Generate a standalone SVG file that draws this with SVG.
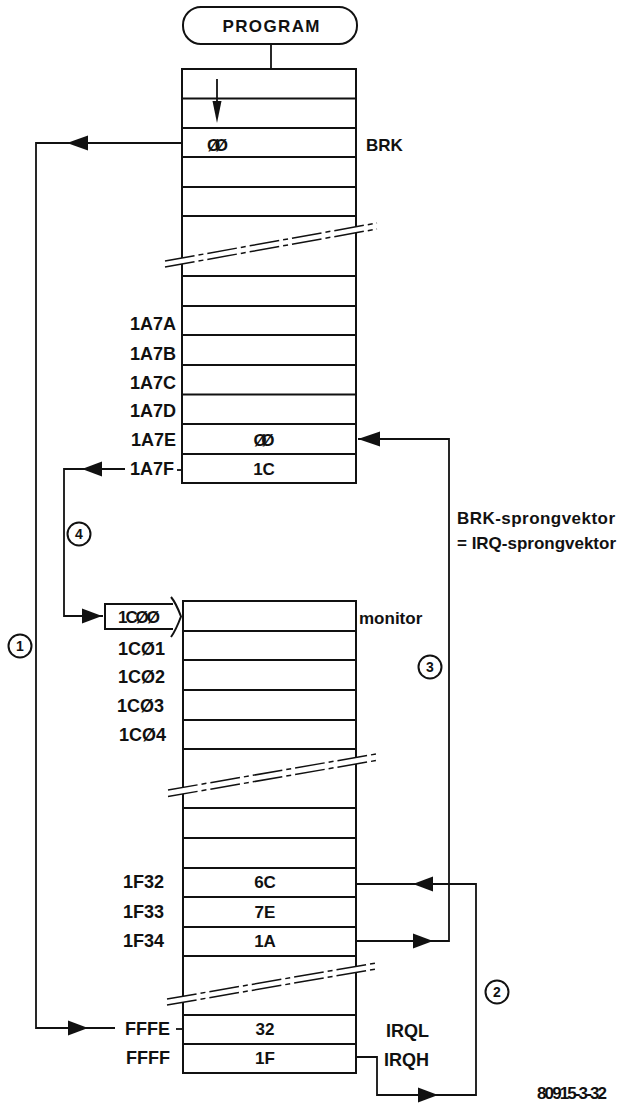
<svg xmlns="http://www.w3.org/2000/svg" width="619" height="1104" viewBox="0 0 619 1104">
<style>
  .bg{fill:#fff}
  .box{fill:none;stroke:#111;stroke-width:2}
  .row{stroke:#111;stroke-width:2}
  .wire{fill:none;stroke:#111;stroke-width:1.8}
  .ah{fill:#111;stroke:none}
  .band{fill:#fff;stroke:none}
  .brk{fill:none;stroke:#111;stroke-width:1.5;stroke-dasharray:30 4 5 4}
  .t{font-family:"Liberation Sans",Arial,sans-serif;font-weight:bold;font-size:17px;fill:#111}
  .lab{font-size:18px}
  .num{font-size:14px;text-anchor:middle}
  .circ{fill:#fff;stroke:#111;stroke-width:2}
  .mid{text-anchor:middle}
  .end{text-anchor:end}
</style>
<rect class="bg" x="0" y="0" width="619" height="1104"/>

<g id="program">
  <rect class="box" x="183" y="7" width="174" height="37" rx="18" ry="18"/>
  <text class="t mid" x="271" y="32" font-size="18" textLength="97">PROGRAM</text>
</g>

<g id="memory-top">
  <rect class="box" x="182" y="69" width="174" height="414"/>
  <g class="row">
    <line x1="182" y1="98.5" x2="356" y2="98.5"/>
    <line x1="182" y1="128" x2="356" y2="128"/>
    <line x1="182" y1="157" x2="356" y2="157"/>
    <line x1="182" y1="187" x2="356" y2="187"/>
    <line x1="182" y1="216" x2="356" y2="216"/>
    <line x1="182" y1="276" x2="356" y2="276"/>
    <line x1="182" y1="306" x2="356" y2="306"/>
    <line x1="182" y1="335" x2="356" y2="335"/>
    <line x1="182" y1="365" x2="356" y2="365"/>
    <line x1="182" y1="394.5" x2="356" y2="394.5"/>
    <line x1="182" y1="424" x2="356" y2="424"/>
    <line x1="182" y1="454" x2="356" y2="454"/>
  </g>
  <polygon class="band" points="165,261 377,223 377,229 165,267"/>
  <line class="brk" x1="165" y1="261" x2="377" y2="223"/>
  <line class="brk" x1="165" y1="267" x2="377" y2="229"/>
  <text class="t" x="207" y="151" textLength="21">ØØ</text>
  <text class="t" x="366" y="151">BRK</text>
  <text class="t lab end" x="176" y="330">1A7A</text>
  <text class="t lab end" x="176" y="360">1A7B</text>
  <text class="t lab end" x="176" y="389">1A7C</text>
  <text class="t lab end" x="176" y="417">1A7D</text>
  <text class="t lab end" x="176" y="446">1A7E</text>
  <text class="t lab end" x="174" y="475">1A7F</text>
  <line class="wire" x1="177" y1="470" x2="182" y2="470"/>
  <text class="t mid" x="264" y="446" textLength="21">ØØ</text>
  <text class="t mid" x="264" y="475">1C</text>
</g>

<g id="memory-bottom">
  <rect class="box" x="183" y="601" width="173" height="472"/>
  <g class="row">
    <line x1="183" y1="631" x2="356" y2="631"/>
    <line x1="183" y1="660" x2="356" y2="660"/>
    <line x1="183" y1="690" x2="356" y2="690"/>
    <line x1="183" y1="720" x2="356" y2="720"/>
    <line x1="183" y1="749" x2="356" y2="749"/>
    <line x1="183" y1="808" x2="356" y2="808"/>
    <line x1="183" y1="838" x2="356" y2="838"/>
    <line x1="183" y1="868" x2="356" y2="868"/>
    <line x1="183" y1="897" x2="356" y2="897"/>
    <line x1="183" y1="927" x2="356" y2="927"/>
    <line x1="183" y1="956" x2="356" y2="956"/>
    <line x1="183" y1="1015" x2="356" y2="1015"/>
    <line x1="183" y1="1044" x2="356" y2="1044"/>
  </g>
  <polygon class="band" points="168,790 376,754 376,760.5 168,796.5"/>
  <line class="brk" x1="168" y1="790" x2="376" y2="754"/>
  <line class="brk" x1="168" y1="796.5" x2="376" y2="760.5"/>
  <polygon class="band" points="167,999 376,963 376,969 167,1005"/>
  <line class="brk" x1="167" y1="999" x2="376" y2="963"/>
  <line class="brk" x1="167" y1="1005" x2="376" y2="969"/>
  <text class="t" x="359" y="624">monitor</text>
  <text class="t lab" x="118" y="655">1CØ1</text>
  <text class="t lab" x="118" y="683">1CØ2</text>
  <text class="t lab" x="117" y="712">1CØ3</text>
  <text class="t lab" x="119" y="741">1CØ4</text>
  <text class="t lab end" x="164" y="888">1F32</text>
  <text class="t lab end" x="164" y="918">1F33</text>
  <text class="t lab end" x="164" y="947">1F34</text>
  <text class="t lab end" x="170" y="1035">FFFE</text>
  <line class="wire" x1="176" y1="1029" x2="183" y2="1029"/>
  <text class="t lab end" x="170" y="1064">FFFF</text>
  <text class="t mid" x="265" y="888">6C</text>
  <text class="t mid" x="265" y="918">7E</text>
  <text class="t mid" x="265" y="947">1A</text>
  <text class="t mid" x="265" y="1035">32</text>
  <text class="t mid" x="265" y="1064">1F</text>
  <text class="t lab" x="386" y="1037">IRQL</text>
  <text class="t lab" x="384" y="1066">IRQH</text>
</g>

<g id="pointer-1C00">
  <path class="box" d="M173,604 H105 V629 H173"/>
  <path class="box" d="M171,597 Q176,603 181,616.5 Q176,630 171,637"/>
  <text class="t" x="118" y="623" textLength="42">1CØØ</text>
</g>

<g id="connectors">
  <path class="wire" d="M271,44 V69"/>
  <path class="wire" d="M217,79 V105"/>
  <polygon class="ah" points="217,123 212.5,101 221.5,101"/>
  <path class="wire" d="M182,143 H36 V1028 H115"/>
  <polygon class="ah" points="67,143 88,135.5 88,150.5"/>
  <polygon class="ah" points="88,1028 68,1020.5 68,1035.5"/>
  <path class="wire" d="M125,469 H64 V616 H103"/>
  <polygon class="ah" points="82,469 102,461.5 102,476.5"/>
  <polygon class="ah" points="102,616 82,608.5 82,623.5"/>
  <path class="wire" d="M356,941 H449 V439 H358"/>
  <polygon class="ah" points="358,439 380,431.5 380,446.5"/>
  <polygon class="ah" points="433,941 413,933.5 413,948.5"/>
  <path class="wire" d="M356,1057 H377 V1095 H476 V884 H356"/>
  <polygon class="ah" points="413,884 433,876.5 433,891.5"/>
  <polygon class="ah" points="438,1095 418,1087.5 418,1102.5"/>
</g>

<g id="step-1">
  <circle class="circ" cx="20" cy="646" r="11.5"/>
  <text class="t num" x="20" y="651">1</text>
</g>
<g id="step-2">
  <circle class="circ" cx="497" cy="992" r="11.5"/>
  <text class="t num" x="497" y="997">2</text>
</g>
<g id="step-3">
  <circle class="circ" cx="430" cy="667" r="11.5"/>
  <text class="t num" x="430" y="672">3</text>
</g>
<g id="step-4">
  <circle class="circ" cx="79" cy="534" r="11.5"/>
  <text class="t num" x="79" y="539">4</text>
</g>

<g id="vector-note">
  <text class="t" x="457" y="524" font-size="18" textLength="158">BRK-sprongvektor</text>
  <text class="t" x="457" y="549" font-size="18" textLength="159">= IRQ-sprongvektor</text>
</g>

<g id="figure-id">
  <text class="t" x="537" y="1099" font-size="13.5" textLength="70">80915-3-32</text>
</g>
</svg>
